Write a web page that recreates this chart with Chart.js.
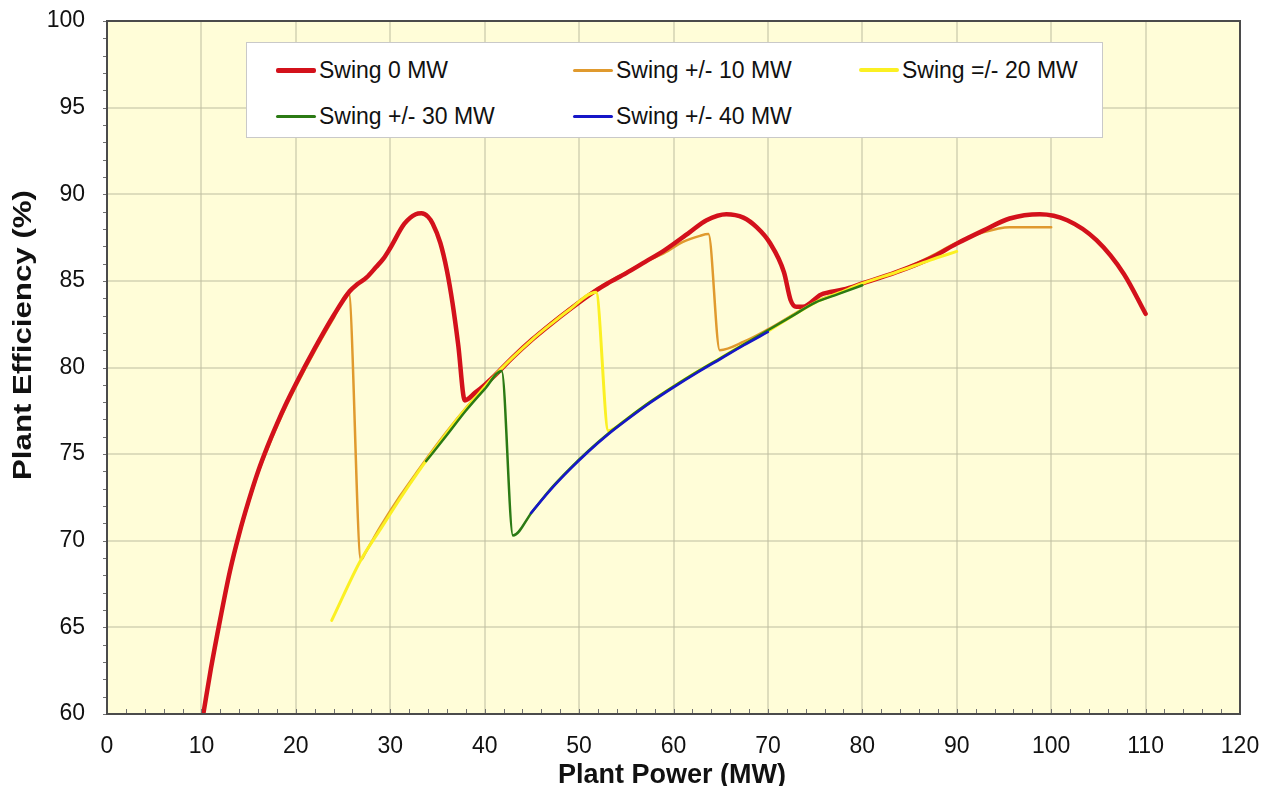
<!DOCTYPE html>
<html>
<head>
<meta charset="utf-8">
<title>Plant Efficiency vs Plant Power</title>
<script src="https://cdn.jsdelivr.net/npm/chart.js@4.4.1/dist/chart.umd.min.js"></script>
<style>
  body { margin: 0; background: #fff; }
  #wrap { position: relative; width: 1272px; height: 786px; overflow: hidden; }
  #legendBox {
    position: absolute; left: 246px; top: 42px; width: 857px; height: 96px;
    background: #fff; border: 1px solid #c9c9c9; box-sizing: border-box;
    font-family: 'Liberation Sans', Arial, sans-serif; font-size: 23px; color: #111;
  }
  .item { position: absolute; display: flex; align-items: center; white-space: nowrap; }
  .swatch { width: 40px; margin-right: 3px; border-radius: 2px; }
</style>
</head>
<body>
<div id="wrap">
  <canvas id="myChart" width="1272" height="786"></canvas>
  <div id="legendBox"></div>
</div>
<script>
'use strict';

let seriesNames = ['Swing 0 MW', 'Swing +/- 10 MW', 'Swing =/- 20 MW', 'Swing +/- 30 MW', 'Swing +/- 40 MW'];

// plant power (MW) and plant efficiency (%) for each swing case
let swing0Power = [10.2, 11, 12, 13, 14, 15, 16, 17, 18, 19, 20, 22, 24, 25.7, 26.5, 27.5, 28.5, 29.3, 30, 31.5, 32.7, 33.3, 34, 34.5, 35.3, 36, 36.6, 37.2, 37.9, 39, 40, 41, 43, 45, 47, 49, 51.8, 53, 55, 57, 59, 61.7, 63.5, 65.6, 67.4, 68.8, 70.2, 71.7, 72.4, 73, 73.7, 75.6, 78, 80, 83.6, 87.2, 90, 92.8, 95.6, 98.8, 101.7, 104.8, 107.7, 110];
let swing0Eff = [60, 62.6, 65.5, 68.2, 70.4, 72.3, 74, 75.45, 76.75, 77.95, 79.05, 81.1, 83, 84.4, 84.8, 85.2, 85.8, 86.3, 86.9, 88.3, 88.85, 88.9, 88.7, 88.3, 87.2, 85.6, 83.7, 81.3, 78.1, 78.55, 79, 79.5, 80.6, 81.6, 82.5, 83.35, 84.45, 84.85, 85.45, 86.1, 86.75, 87.8, 88.5, 88.85, 88.65, 88.1, 87.2, 85.5, 83.9, 83.5, 83.5, 84.2, 84.5, 84.85, 85.5, 86.3, 87.15, 87.9, 88.6, 88.85, 88.5, 87.35, 85.4, 83.1];

let swing10Power = [12, 13, 14, 15, 16, 17, 18, 19, 20, 22, 24, 25.6, 26.9, 27.3, 29, 31, 33, 35, 37, 39, 41, 43, 45, 47, 49, 51.8, 53, 55, 57, 59, 61, 62.8, 63.7, 64.9, 67.5, 70, 72.5, 75, 77.5, 80, 83.6, 87.2, 90, 92.8, 95.6, 100];
let swing10Eff = [65.5, 68.1, 70.3, 72.2, 73.9, 75.3, 76.6, 77.8, 78.9, 80.95, 82.85, 84.3, 68.9, 69.25, 70.85, 72.55, 74.1, 75.6, 77, 78.3, 79.5, 80.6, 81.6, 82.55, 83.4, 84.5, 84.9, 85.5, 86.1, 86.6, 87.25, 87.6, 87.7, 81, 81.5, 82.2, 83, 83.8, 84.3, 84.85, 85.5, 86.4, 87.2, 87.8, 88.1, 88.1];

let swing20Power = [23.8, 26.9, 29, 31, 33, 35, 37, 39, 41, 43, 45, 47, 49, 51.8, 53.1, 55, 57.5, 60, 62.5, 65, 67.5, 70, 72.5, 75, 77.5, 80, 83.6, 87.2, 90];
let swing20Eff = [65.4, 68.9, 70.7, 72.4, 74, 75.5, 76.95, 78.25, 79.5, 80.6, 81.6, 82.5, 83.35, 84.35, 76.35, 77, 78, 78.9, 79.75, 80.55, 81.35, 82.1, 82.95, 83.75, 84.3, 84.85, 85.5, 86.2, 86.7];

let swing30Power = [33.8, 36, 38, 40, 41.8, 43, 45, 47, 49, 51, 53, 55, 57.5, 60, 62.5, 65, 67.5, 70, 72.5, 75, 77.5, 80];
let swing30Eff = [74.6, 76.1, 77.5, 78.75, 79.8, 70.3, 71.65, 73, 74.15, 75.2, 76.15, 77, 78, 78.9, 79.75, 80.55, 81.35, 82.15, 82.95, 83.75, 84.25, 84.75];

let swing40Power = [44.9, 47, 49, 51, 53, 55, 57.5, 60, 62.5, 65, 67.5, 70];
let swing40Eff = [71.6, 72.95, 74.1, 75.15, 76.1, 76.95, 77.95, 78.85, 79.7, 80.5, 81.3, 82.05];

let xTicks = [0, 10, 20, 30, 40, 50, 60, 70, 80, 90, 100, 110, 120];
let yTicks = [60, 65, 70, 75, 80, 85, 90, 95, 100];

let colors = ['#d3111b', '#e09a2e', '#fbf023', '#2b7a14', '#1616c8'];
let widths = [4.5, 2.5, 3, 2.5, 2.5];
let drawOrder = [3, 4, 2, 1, 0];

function points(xs, ys) {
  let out = [];
  for (let i = 0; i < xs.length; i++) {
    out.push({ x: xs[i], y: ys[i] });
  }
  return out;
}

let allPower = [swing0Power, swing10Power, swing20Power, swing30Power, swing40Power];
let allEff = [swing0Eff, swing10Eff, swing20Eff, swing30Eff, swing40Eff];

let datasets = [];
for (let i = 0; i < seriesNames.length; i++) {
  datasets.push({
    label: seriesNames[i],
    data: points(allPower[i], allEff[i]),
    borderColor: colors[i],
    backgroundColor: colors[i],
    borderWidth: widths[i],
    pointRadius: 0,
    cubicInterpolationMode: 'monotone',
    order: drawOrder[i],
    borderCapStyle: 'round',
    borderJoinStyle: 'round'
  });
}

// yellow plot area, white outside
let plotBackground = {
  id: 'plotBackground',
  beforeDraw(chart) {
    let ctx = chart.ctx;
    let a = chart.chartArea;
    ctx.save();
    ctx.fillStyle = '#ffffff';
    ctx.fillRect(0, 0, chart.width, chart.height);
    ctx.fillStyle = '#fffdd8';
    ctx.fillRect(a.left, a.top, a.right - a.left, a.bottom - a.top);
    ctx.restore();
  }
};

// frame, minor ticks and the axis titles
let frameAndTitles = {
  id: 'frameAndTitles',
  afterDraw(chart) {
    let ctx = chart.ctx;
    let a = chart.chartArea;
    let x = chart.scales.x;
    let y = chart.scales.y;
    ctx.save();
    ctx.strokeStyle = '#707070';
    ctx.lineWidth = 1;
    ctx.beginPath();
    for (let v = 0; v <= 120; v += 2) {
      let px = Math.round(x.getPixelForValue(v)) + 0.5;
      ctx.moveTo(px, a.bottom);
      ctx.lineTo(px, a.bottom - 5);
    }
    for (let v = 60; v <= 100; v += 1) {
      let py = Math.round(y.getPixelForValue(v)) + 0.5;
      ctx.moveTo(a.left - 4, py);
      ctx.lineTo(a.left, py);
    }
    ctx.stroke();

    ctx.strokeStyle = '#4b4b4b';
    ctx.lineWidth = 2;
    ctx.strokeRect(a.left, a.top, a.right - a.left, a.bottom - a.top);

    ctx.fillStyle = '#111';
    ctx.textAlign = 'center';
    ctx.textBaseline = 'alphabetic';
    ctx.font = 'bold 27px "Liberation Sans", Arial, sans-serif';
    ctx.fillText('Plant Power (MW)', 672, 783);

    ctx.translate(31, 335);
    ctx.rotate(-Math.PI / 2);
    ctx.scale(1.25, 1);
    ctx.font = 'bold 25px "Liberation Sans", Arial, sans-serif';
    ctx.fillText('Plant Efficiency (%)', 0, 0);
    ctx.restore();
  }
};

let ctx = document.getElementById('myChart').getContext('2d');
let myChart = new Chart(ctx, {
  type: 'line',
  data: { datasets: datasets },
  options: {
    responsive: false,
    animation: false,
    devicePixelRatio: 1,
    layout: { padding: { top: 21, right: 32, left: 0, bottom: 0 } },
    plugins: {
      legend: { display: false },
      tooltip: { enabled: false }
    },
    scales: {
      x: {
        type: 'linear',
        min: 0,
        max: 120,
        afterBuildTicks: (scale) => { scale.ticks = xTicks.map(v => ({ value: v })); },
        afterFit: (scale) => {
          scale.height = 72;
          scale.paddingLeft = 0;
          scale.paddingRight = 0;
        },
        ticks: {
          padding: 19,
          color: '#111',
          font: { family: '"Liberation Sans", Arial, sans-serif', size: 23 }
        },
        grid: { color: 'rgba(190,190,160,0.5)', lineWidth: 2, drawTicks: false },
        border: { display: false }
      },
      y: {
        type: 'linear',
        min: 60,
        max: 100,
        afterBuildTicks: (scale) => { scale.ticks = yTicks.map(v => ({ value: v })); },
        afterFit: (scale) => {
          scale.width = 107;
          scale.paddingTop = 0;
          scale.paddingBottom = 0;
        },
        ticks: {
          padding: 22,
          color: '#111',
          font: { family: '"Liberation Sans", Arial, sans-serif', size: 23 }
        },
        grid: { color: 'rgba(190,190,160,0.5)', lineWidth: 2, drawTicks: false },
        border: { display: false }
      }
    }
  },
  plugins: [plotBackground, frameAndTitles]
});

// legend box drawn inside the plot, three columns
let legendBox = document.getElementById('legendBox');
let colLeft = [29, 326, 612];
let rowTop = [27, 73];
for (let i = 0; i < seriesNames.length; i++) {
  let item = document.createElement('div');
  item.className = 'item';
  item.style.left = colLeft[i % 3] + 'px';
  item.style.top = (rowTop[Math.floor(i / 3)] - 14) + 'px';
  item.style.height = '28px';
  let swatch = document.createElement('span');
  swatch.className = 'swatch';
  swatch.style.height = (widths[i] + 0.5) + 'px';
  swatch.style.background = colors[i];
  let text = document.createElement('span');
  text.textContent = seriesNames[i];
  item.appendChild(swatch);
  item.appendChild(text);
  legendBox.appendChild(item);
}
</script>
</body>
</html>
